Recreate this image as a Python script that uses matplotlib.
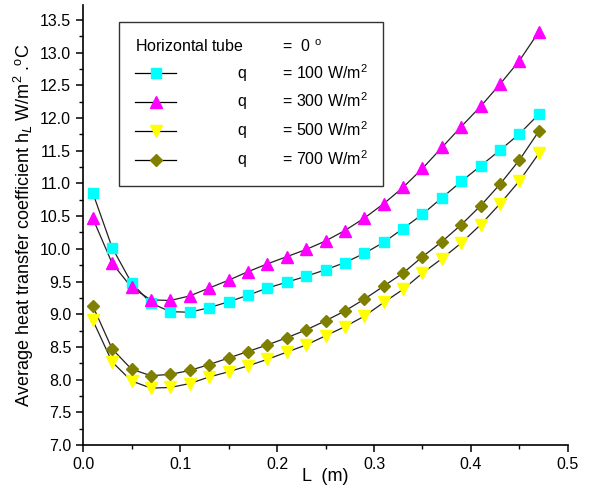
import numpy as np
import matplotlib
matplotlib.use("Agg")
import matplotlib.pyplot as plt
from matplotlib.ticker import MultipleLocator, FormatStrFormatter
from matplotlib.lines import Line2D

plt.rcParams['font.family'] = ['Liberation Sans', 'DejaVu Sans']
plt.rcParams['mathtext.fontset'] = 'custom'
plt.rcParams['mathtext.rm'] = 'Liberation Sans'

# ── Data ──────────────────────────────────────────────────────────
L = np.round(np.arange(0.01, 0.48, 0.02), 2)

q100 = [10.86, 10.02, 9.48, 9.17, 9.04, 9.03, 9.10, 9.19, 9.29, 9.40, 9.49, 9.58,
        9.68, 9.79, 9.93, 10.10, 10.31, 10.53, 10.78, 11.03, 11.27, 11.51, 11.76, 12.06]
q300 = [10.47, 9.78, 9.41, 9.22, 9.21, 9.28, 9.40, 9.52, 9.65, 9.77, 9.88, 9.99,
        10.12, 10.28, 10.47, 10.69, 10.94, 11.23, 11.55, 11.87, 12.18, 12.52, 12.88, 13.32]
q500 = [8.91, 8.27, 7.98, 7.87, 7.88, 7.94, 8.04, 8.12, 8.21, 8.31, 8.42, 8.53,
        8.67, 8.81, 8.97, 9.18, 9.38, 9.63, 9.85, 10.09, 10.37, 10.69, 11.04, 11.46]
q700 = [9.13, 8.47, 8.16, 8.06, 8.08, 8.14, 8.23, 8.33, 8.43, 8.53, 8.64, 8.76,
        8.90, 9.05, 9.23, 9.43, 9.63, 9.88, 10.11, 10.37, 10.66, 10.99, 11.36, 11.80]

series = [
    (q100, 's', '#00FFFF', 7.0, '100'),
    (q300, '^', '#FF00FF', 8.5, '300'),
    (q500, 'v', '#FFFF00', 8.5, '500'),
    (q700, 'D', '#808000', 6.5, '700'),
]

fig = plt.figure(figsize=(5.9, 4.95), dpi=100)
ax = fig.add_axes([0.1407, 0.101, 0.822, 0.889])

handles, labels = [], []
for vals, mk, col, ms, q in series:
    ax.plot(L, vals, '-', color='#222222', lw=0.9, zorder=2)
    ax.plot(L, vals, ls='none', marker=mk, color=col, markersize=ms,
            markeredgecolor=col, zorder=3)
    handles.append(Line2D([], [], color='black', lw=0.9, marker=mk,
                          markerfacecolor=col, markeredgecolor=col, markersize=ms))
    labels.append('             q        = %s W/m$^{2}$' % q)

ax.set_xlim(0.0, 0.5)
ax.set_ylim(7.0, 13.73)
ax.xaxis.set_major_locator(MultipleLocator(0.1))
ax.xaxis.set_minor_locator(MultipleLocator(0.05))
ax.yaxis.set_major_locator(MultipleLocator(0.5))
ax.yaxis.set_minor_locator(MultipleLocator(0.25))
ax.xaxis.set_major_formatter(FormatStrFormatter('%.1f'))
ax.yaxis.set_major_formatter(FormatStrFormatter('%.1f'))

for s in ['top', 'right']:
    ax.spines[s].set_visible(False)
for s in ['left', 'bottom']:
    ax.spines[s].set_linewidth(1.2)
ax.tick_params(which='major', direction='out', length=5, width=1.1, labelsize=11.5)
ax.tick_params(which='minor', direction='out', length=3, width=1.0)

ax.set_xlabel('L  (m)', fontsize=13, labelpad=-3)
ax.set_ylabel('Average heat transfer coefficient h$_{L}$ W/m$^{2}$ .$^{\\rm o}$C',
              fontsize=13, labelpad=3)

leg = ax.legend(handles, labels, loc='upper left', bbox_to_anchor=(0.074, 0.961),
                title='Horizontal tube         =  0 $^{\\rm o}$', alignment='left',
                fontsize=11.5, title_fontsize=11.5, frameon=True, fancybox=False,
                edgecolor='#333333', framealpha=1, handlelength=2.6,
                handletextpad=0.2, labelspacing=0.45, borderpad=1.0,
                borderaxespad=0)
leg.get_frame().set_linewidth(1.0)

fig.savefig('out.png', dpi=100)
